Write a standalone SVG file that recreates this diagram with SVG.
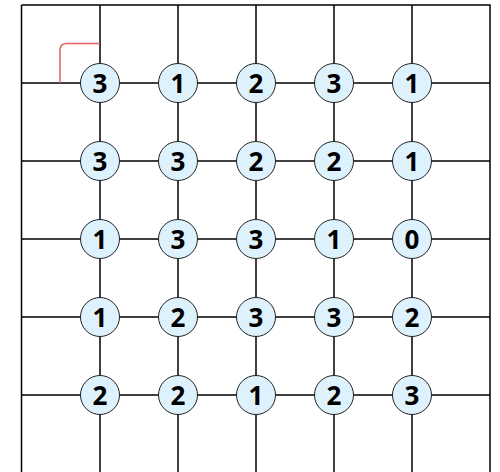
<svg xmlns="http://www.w3.org/2000/svg" width="500" height="472" viewBox="0 0 500 472">
<style>
.g{stroke:#000;stroke-width:1.5;fill:none}
.c{fill:#ddf2fc;stroke:#222;stroke-width:1}
.t{font-family:"Open Sans",sans-serif;font-weight:bold;font-size:26px;text-anchor:middle;fill:#000}
</style>
<rect width="500" height="472" fill="#fff"/>
<g id="connectors" class="g">
<path d="M21.5 5H490V472M21.5 5V472"/>
<path d="M100 5V472M178 5V472M256 5V472M334 5V472M412 5V472"/>
<path d="M21.5 83H490M21.5 161H490M21.5 239H490M21.5 317H490M21.5 395H490"/>
<path d="M60 83V50Q60 43.5 67 43.5H100" stroke="#e06060"/>
</g>
<g id="n11"><circle class="c" cx="100" cy="83" r="19.5"/><text class="t" x="100" y="92.5">3</text></g>
<g id="n12"><circle class="c" cx="178" cy="83" r="19.5"/><text class="t" x="178" y="92.5">1</text></g>
<g id="n13"><circle class="c" cx="256" cy="83" r="19.5"/><text class="t" x="256" y="92.5">2</text></g>
<g id="n14"><circle class="c" cx="334" cy="83" r="19.5"/><text class="t" x="334" y="92.5">3</text></g>
<g id="n15"><circle class="c" cx="412" cy="83" r="19.5"/><text class="t" x="412" y="92.5">1</text></g>
<g id="n21"><circle class="c" cx="100" cy="161" r="19.5"/><text class="t" x="100" y="170.5">3</text></g>
<g id="n22"><circle class="c" cx="178" cy="161" r="19.5"/><text class="t" x="178" y="170.5">3</text></g>
<g id="n23"><circle class="c" cx="256" cy="161" r="19.5"/><text class="t" x="256" y="170.5">2</text></g>
<g id="n24"><circle class="c" cx="334" cy="161" r="19.5"/><text class="t" x="334" y="170.5">2</text></g>
<g id="n25"><circle class="c" cx="412" cy="161" r="19.5"/><text class="t" x="412" y="170.5">1</text></g>
<g id="n31"><circle class="c" cx="100" cy="239" r="19.5"/><text class="t" x="100" y="248.5">1</text></g>
<g id="n32"><circle class="c" cx="178" cy="239" r="19.5"/><text class="t" x="178" y="248.5">3</text></g>
<g id="n33"><circle class="c" cx="256" cy="239" r="19.5"/><text class="t" x="256" y="248.5">3</text></g>
<g id="n34"><circle class="c" cx="334" cy="239" r="19.5"/><text class="t" x="334" y="248.5">1</text></g>
<g id="n35"><circle class="c" cx="412" cy="239" r="19.5"/><text class="t" x="412" y="248.5">0</text></g>
<g id="n41"><circle class="c" cx="100" cy="317" r="19.5"/><text class="t" x="100" y="326.5">1</text></g>
<g id="n42"><circle class="c" cx="178" cy="317" r="19.5"/><text class="t" x="178" y="326.5">2</text></g>
<g id="n43"><circle class="c" cx="256" cy="317" r="19.5"/><text class="t" x="256" y="326.5">3</text></g>
<g id="n44"><circle class="c" cx="334" cy="317" r="19.5"/><text class="t" x="334" y="326.5">3</text></g>
<g id="n45"><circle class="c" cx="412" cy="317" r="19.5"/><text class="t" x="412" y="326.5">2</text></g>
<g id="n51"><circle class="c" cx="100" cy="395" r="19.5"/><text class="t" x="100" y="404.5">2</text></g>
<g id="n52"><circle class="c" cx="178" cy="395" r="19.5"/><text class="t" x="178" y="404.5">2</text></g>
<g id="n53"><circle class="c" cx="256" cy="395" r="19.5"/><text class="t" x="256" y="404.5">1</text></g>
<g id="n54"><circle class="c" cx="334" cy="395" r="19.5"/><text class="t" x="334" y="404.5">2</text></g>
<g id="n55"><circle class="c" cx="412" cy="395" r="19.5"/><text class="t" x="412" y="404.5">3</text></g>
</svg>
